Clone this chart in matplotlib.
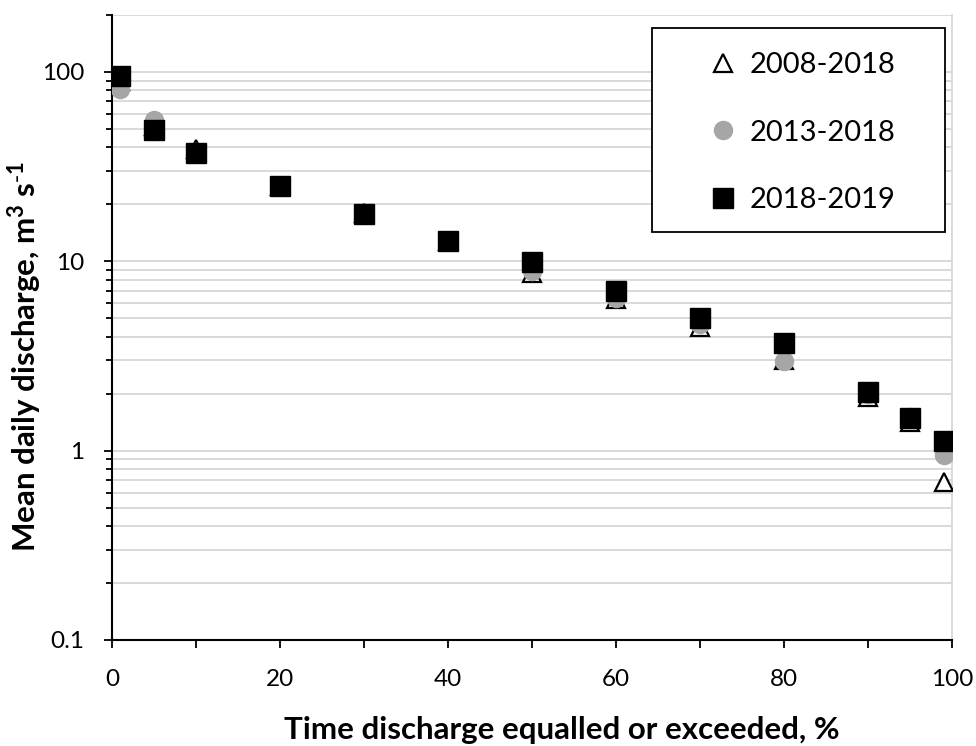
import matplotlib.pyplot as plt
from matplotlib.patches import Rectangle
from matplotlib.ticker import LogLocator, FixedLocator, NullFormatter, FuncFormatter

plt.rcParams['font.family'] = ['Lato', 'DejaVu Sans']
plt.rcParams['mathtext.default'] = 'regular'

# exceedance percentages
pct = [1, 5, 10, 20, 30, 40, 50, 60, 70, 80, 90, 95, 99]

# mean daily discharge, m3/s
q_2008_2018 = [90, 52, 39, 25, 18, 12.8, 8.7, 6.3, 4.5, 3.0, 1.93, 1.41, 0.68]
q_2013_2018 = [81, 56, 38, 25, 18, 12.8, 8.85, 6.4, 4.65, 2.96, 2.0, 1.5, 0.95]
q_2018_2019 = [95, 49.3, 37.3, 24.9, 17.7, 12.8, 9.9, 7.0, 5.05, 3.72, 2.05, 1.48, 1.12]

fig = plt.figure(figsize=(9.76, 7.46), dpi=100)
ax = fig.add_axes([0.1148, 0.1421, 0.8606, 0.8378])

ax.plot(pct, q_2008_2018, linestyle='none', marker='^', markersize=13,
        markerfacecolor='white', markeredgecolor='black', markeredgewidth=1.6,
        label='2008-2018', zorder=3)
ax.plot(pct, q_2013_2018, linestyle='none', marker='o', markersize=13,
        markerfacecolor='#a6a6a6', markeredgecolor='#a6a6a6',
        label='2013-2018', zorder=4)
ax.plot(pct, q_2018_2019, linestyle='none', marker='s', markersize=14.5,
        markerfacecolor='black', markeredgecolor='black',
        label='2018-2019', zorder=5)

ax.set_yscale('log')
ax.set_ylim(0.1, 200)
ax.set_xlim(0, 100)

ax.set_xticks(range(0, 101, 20))
ax.xaxis.set_minor_locator(FixedLocator(range(10, 100, 20)))
ax.tick_params(axis='x', which='both', direction='out', length=6, width=1.3,
               labelsize=17.5, pad=15)
ax.tick_params(axis='y', which='major', direction='out', length=6, width=1.3,
               labelsize=17.5, pad=14)
ax.tick_params(axis='y', which='minor', direction='out', length=4.5, width=1.3)

ax.yaxis.set_major_locator(LogLocator(base=10, numticks=10))
ax.yaxis.set_minor_locator(LogLocator(base=10, subs=range(2, 10), numticks=10))
ax.yaxis.set_minor_formatter(NullFormatter())
ax.yaxis.set_major_formatter(FuncFormatter(lambda v, p: f'{v:g}'))

ax.grid(True, which='both', axis='y', color='#d9d9d9', linewidth=1.4)
ax.set_axisbelow(True)

for s in ['left', 'bottom']:
    ax.spines[s].set_color('black')
    ax.spines[s].set_linewidth(1.5)
ax.spines['top'].set_visible(False)
ax.spines['right'].set_color('#d9d9d9')
ax.spines['right'].set_linewidth(1.4)

ax.set_xlabel('Time discharge equalled or exceeded, %', fontsize=22.5,
              fontweight='bold')
ax.set_ylabel('Mean daily discharge, m$^{3}$ s$^{\\text{-}1}$', fontsize=22.5,
              fontweight='bold')
ax.xaxis.set_label_coords(0.535, -0.122)
ax.yaxis.set_label_coords(-0.081, 0.453)

# legend box drawn separately so its padding can match the original
ax.add_patch(Rectangle((0.643, 0.653), 0.3487, 0.326, transform=ax.transAxes,
                       facecolor='white', edgecolor='black', linewidth=1.3,
                       zorder=6))
leg = ax.legend(loc='upper left', bbox_to_anchor=(0.7067, 0.941), fontsize=21,
                frameon=False, borderpad=0, labelspacing=1.43,
                handletextpad=0.3, handlelength=1.2, borderaxespad=0)
leg.set_zorder(7)

plt.savefig('out.png', dpi=100)
